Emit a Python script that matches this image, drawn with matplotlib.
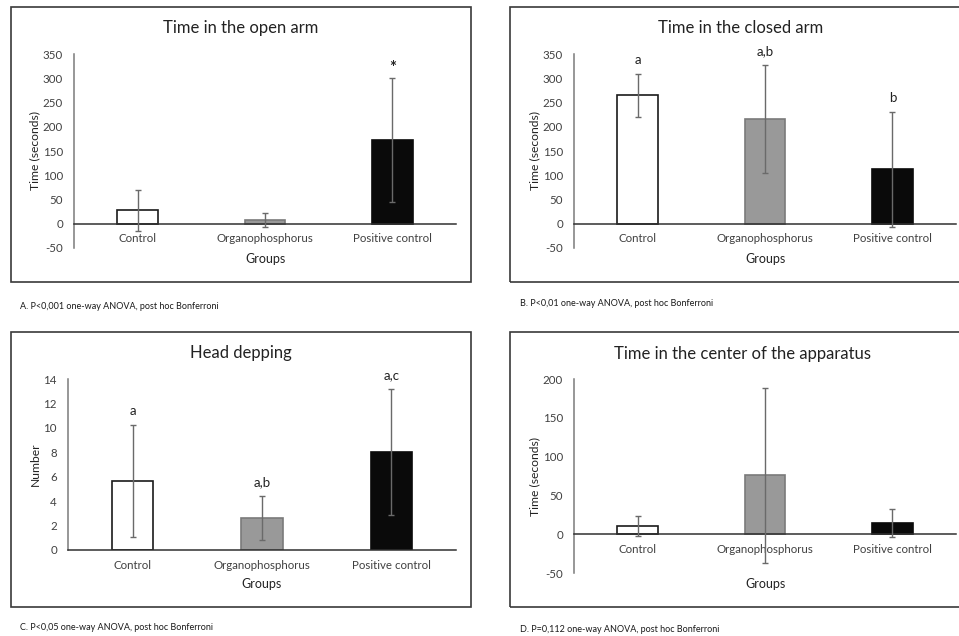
import matplotlib
matplotlib.use('Agg')
import matplotlib.pyplot as plt
from matplotlib.patches import Rectangle

# ---------------------------- Данные ----------------------------------

groups = ['Control', 'Organophosphorus', 'Positive control']

open_mean = [28, 8, 173]
open_sd = [42, 15, 128]
open_marks = ['', '', '*']

closed_mean = [265, 216, 112]
closed_sd = [44, 112, 118]
closed_marks = ['a', 'a,b', 'b']

head_mean = [5.62, 2.62, 8.0]
head_sd = [4.58, 1.78, 5.16]
head_marks = ['a', 'a,b', 'a,c']

center_mean = [11, 76, 15]
center_sd = [13, 113, 18]
center_marks = ['', '', '']

# ---------------------------- Параметры -------------------------------

W, H = 959, 636
FONT = ['Lato', 'DejaVu Sans']
BAR_FACE = ['white', '#999999', '#0a0a0a']
BAR_EDGE = ['#1a1a1a', '#7a7a7a', '#0a0a0a']
TICK_COLOR = '#404040'
TEXT_COLOR = '#222222'

plt.rcParams['font.family'] = FONT
plt.rcParams['axes.unicode_minus'] = False

fig = plt.figure(figsize=(W / 100, H / 100), dpi=100)


def px_x(x):
	return x / W


def px_y(y):
	return 1 - y / H


def add_box(left, top, right, bottom):				# Рамка вокруг графика
	fig.patches.append(Rectangle((px_x(left), px_y(bottom)), px_x(right - left), (bottom - top) / H,
		transform=fig.transFigure, fill=False, edgecolor='#3a3a3a', linewidth=1.2))


def add_panel(rect, mean, sd, marks, y_min, y_max, y_step, title, title_pos, y_label, ylabel_x,
			groups_y, caption, caption_pos):
	left, top, right, bottom = rect
	ax = fig.add_axes([px_x(left), px_y(bottom), px_x(right - left), (bottom - top) / H])
	x = list(range(len(groups)))
	ax.bar(x, mean, width=0.32, color=BAR_FACE, edgecolor=BAR_EDGE, linewidth=1.2, zorder=2)
	ax.errorbar(x, mean, yerr=sd, fmt='none', ecolor='#6a6a6a', elinewidth=1.0,
				capsize=2, capthick=1.0, zorder=3)
	for i in x:
		if marks[i] == '*':
			ax.annotate(marks[i], (i, mean[i] + sd[i]), xytext=(0, 10), textcoords='offset pixels',
						ha='center', va='center', fontsize=12, fontweight='bold', color=TEXT_COLOR)
		elif marks[i]:
			ax.annotate(marks[i], (i, mean[i] + sd[i]), xytext=(0, 14), textcoords='offset pixels',
						ha='center', va='center', fontsize=9.5, color=TEXT_COLOR)

	ax.set_xlim(-0.5, len(groups) - 0.5)
	ax.set_ylim(y_min, y_max)
	ax.set_yticks(range(y_min, y_max + 1, y_step))
	ax.set_xticks(x)
	ax.set_xticklabels(groups)

	for s in ['top', 'right']:
		ax.spines[s].set_visible(False)
	ax.spines['bottom'].set_position(('data', 0))
	ax.spines['bottom'].set_color('#303030')
	ax.spines['bottom'].set_linewidth(1.1)
	ax.spines['left'].set_color('#7a7a7a')
	ax.spines['left'].set_linewidth(1.1)
	ax.tick_params(axis='both', length=0, labelsize=8.3, labelcolor=TICK_COLOR)
	ax.tick_params(axis='y', pad=8)
	ax.tick_params(axis='x', pad=7)
	ax.set_facecolor('none')

	fig.text(px_x(title_pos[0]), px_y(title_pos[1]), title, ha='center', va='center',
			fontsize=12, color=TEXT_COLOR)
	fig.text(px_x(ylabel_x), px_y((top + bottom) / 2), y_label, ha='center', va='center',
			rotation=90, fontsize=8.7, color=TEXT_COLOR)
	fig.text(px_x((left + right) / 2), px_y(groups_y), 'Groups', ha='center', va='center',
			fontsize=9, color=TEXT_COLOR)
	fig.text(px_x(caption_pos[0]), px_y(caption_pos[1]), caption, ha='left', va='center',
			fontsize=6.5, color='#1a1a1a')


add_box(11, 7, 471, 282)
add_box(510, 7, 975, 282)
add_box(11, 332, 471, 607)
add_box(510, 332, 975, 607)

add_panel((74, 54, 456, 248), open_mean, open_sd, open_marks, -50, 350, 50,
		'Time in the open arm', (241, 28), 'Time (seconds)', 35, 259,
		'A. P<0,001 one-way ANOVA, post hoc Bonferroni', (20, 307))

add_panel((574, 54, 956, 248), closed_mean, closed_sd, closed_marks, -50, 350, 50,
		'Time in the closed arm', (741, 28), 'Time (seconds)', 535, 259,
		'B. P<0,01 one-way ANOVA, post hoc Bonferroni', (520, 304))

add_panel((68, 379, 456, 550), head_mean, head_sd, head_marks, 0, 14, 2,
		'Head depping', (241, 353), 'Number', 35, 584,
		'C. P<0,05 one-way ANOVA, post hoc Bonferroni', (20, 627))

add_panel((574, 379, 956, 573), center_mean, center_sd, center_marks, -50, 200, 50,
		'Time in the center of the apparatus', (742, 354), 'Time (seconds)', 535, 584,
		'D. P=0,112 one-way ANOVA, post hoc Bonferroni', (520, 629))

fig.savefig('out.png', dpi=100)
